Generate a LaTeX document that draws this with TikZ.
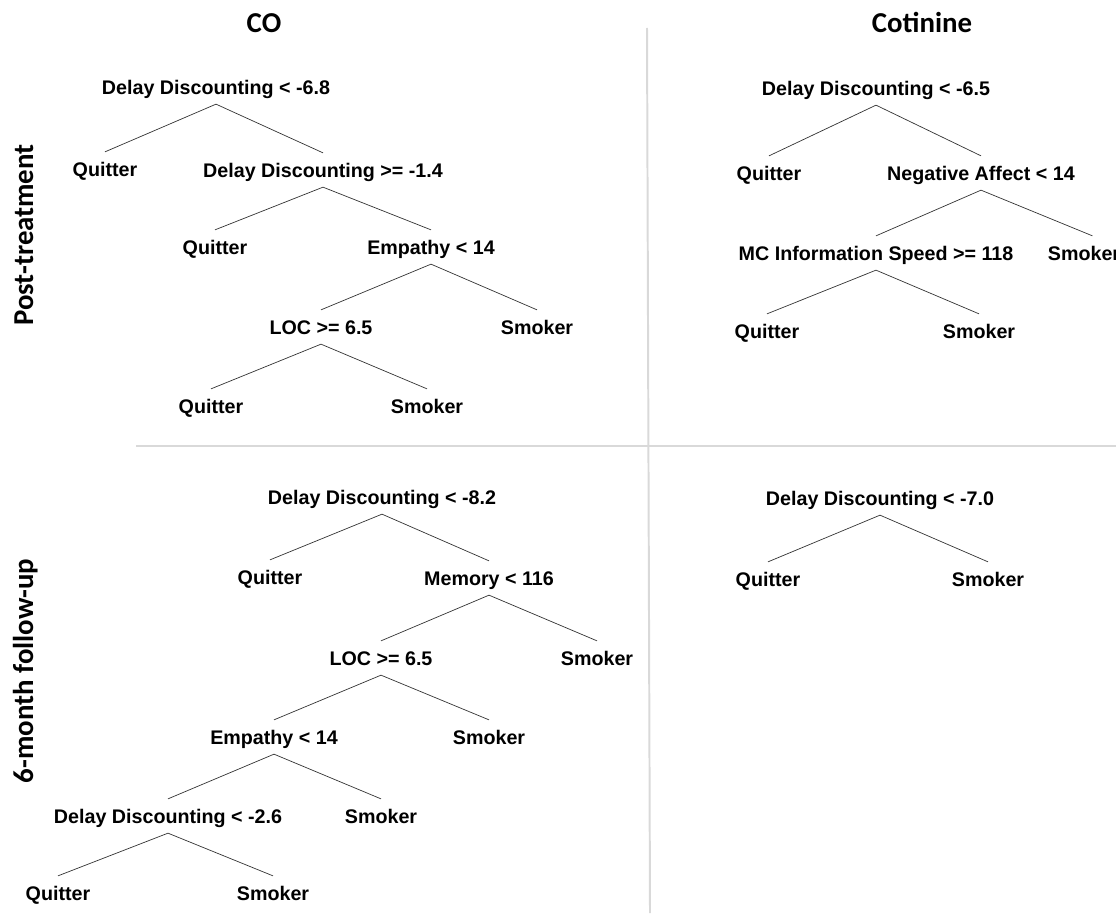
\documentclass[tikz,border=0pt]{standalone}
\usepackage{fontspec}
\setmainfont{Liberation Sans}
\newfontfamily\titlefont{Carlito}

\begin{document}
\begin{tikzpicture}[x=0.025cm,y=-0.025cm]

      \useasboundingbox (0,0) rectangle (1116,913);

      % panel separators
      \begin{scope}[draw=black!15,line width=1.4pt]
        \draw (647,28) -- (650,913);
        \draw (136,446) -- (1116,446);
      \end{scope}

      % headings
      \begin{scope}[every node/.style={font=\titlefont\bfseries\fontsize{20.5pt}{24pt}\selectfont,anchor=base,inner sep=0pt}]
        \node (co)   at (264,33) {CO};
        \node (cot)  at (922,33) {Cotinine};
        \node[rotate=90] (post) at (33,235) {Post-treatment};
        \node[rotate=90] (fup)  at (33,671) {6-month follow-up};
      \end{scope}

      \begin{scope}[every node/.style={font=\bfseries\fontsize{14pt}{16pt}\selectfont,inner xsep=0pt,inner ysep=7pt,text height=10pt,text depth=0pt}]
        % CO, post-treatment
        \node (1)  at (216,87)  {Delay Discounting < -6.8};
        \node (2)  at (105,169) {Quitter};
        \node (3)  at (323,170) {Delay Discounting >= -1.4};
        \node (4)  at (215,247) {Quitter};
        \node (5)  at (431,247) {Empathy < 14};
        \node (6)  at (321,327) {LOC >= 6.5};
        \node (7)  at (537,327) {Smoker};
        \node (8)  at (211,406) {Quitter};
        \node (9)  at (427,406) {Smoker};
        % cotinine, post-treatment
        \node (10) at (876,88)  {Delay Discounting < -6.5};
        \node (11) at (769,173) {Quitter};
        \node (12) at (981,173) {Negative Affect < 14};
        \node (13) at (876,253) {MC Information Speed >= 118};
        \node (14) at (1084,253) {Smoker};
        \node (15) at (767,331) {Quitter};
        \node (16) at (979,331) {Smoker};
        % CO, follow-up
        \node (20) at (382,497) {Delay Discounting < -8.2};
        \node (21) at (270,577) {Quitter};
        \node (22) at (489,578) {Memory < 116};
        \node (23) at (381,658) {LOC >= 6.5};
        \node (24) at (597,658) {Smoker};
        \node (25) at (274,737) {Empathy < 14};
        \node (26) at (489,737) {Smoker};
        \node (27) at (168,816) {Delay Discounting < -2.6};
        \node (28) at (381,816) {Smoker};
        \node (29) at (58,893)  {Quitter};
        \node (30) at (273,893) {Smoker};
        % cotinine, follow-up
        \node (31) at (880,498) {Delay Discounting < -7.0};
        \node (32) at (768,579) {Quitter};
        \node (33) at (988,579) {Smoker};
      \end{scope}

      \begin{scope}[every edge/.style={draw=black!80,line width=.5pt}]
        \path (1.south)  edge (2.north);
        \path (1.south)  edge (3.north);
        \path (3.south)  edge (4.north);
        \path (3.south)  edge (5.north);
        \path (5.south)  edge (6.north);
        \path (5.south)  edge (7.north);
        \path (6.south)  edge (8.north);
        \path (6.south)  edge (9.north);

        \path (10.south) edge (11.north);
        \path (10.south) edge (12.north);
        \path (12.south) edge (13.north);
        \path (12.south) edge ([xshift=6]14.north);
        \path (13.south) edge (15.north);
        \path (13.south) edge (16.north);

        \path (20.south) edge (21.north);
        \path (20.south) edge (22.north);
        \path (22.south) edge (23.north);
        \path (22.south) edge (24.north);
        \path (23.south) edge (25.north);
        \path (23.south) edge (26.north);
        \path (25.south) edge (27.north);
        \path (25.south) edge (28.north);
        \path (27.south) edge (29.north);
        \path (27.south) edge (30.north);

        \path (31.south) edge (32.north);
        \path (31.south) edge (33.north);
      \end{scope}

    \end{tikzpicture}
\end{document}
